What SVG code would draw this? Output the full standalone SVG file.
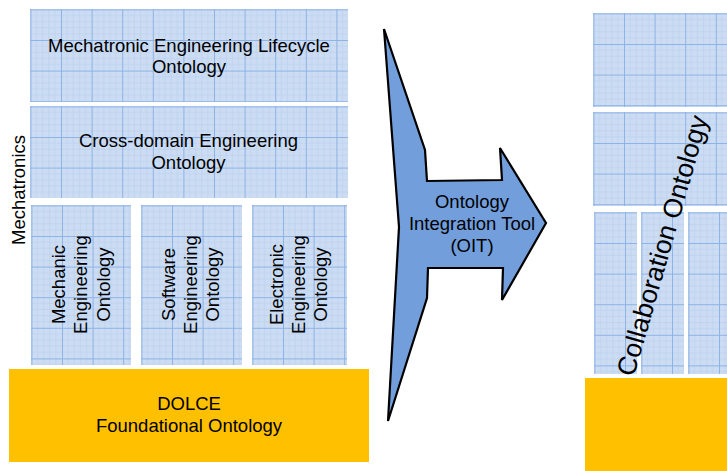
<svg xmlns="http://www.w3.org/2000/svg" width="727" height="471" viewBox="0 0 727 471">
  <defs>
    <pattern id="grid" patternUnits="userSpaceOnUse" x="0.4" y="0.4" width="30.6" height="30.6">
      <rect x="0" y="0" width="30.6" height="30.6" fill="#cbdcf3"/>
      <path d="M6.1 0V30.6M12.2 0V30.6M18.4 0V30.6M24.5 0V30.6M0 6.1H30.6M0 12.2H30.6M0 18.4H30.6M0 24.5H30.6" stroke="#b9cfee" stroke-width="0.6" fill="none"/>
      <path d="M0.5 0V30.6M0 0.5H30.6" stroke="#8eb3e6" stroke-width="1" fill="none"/>
    </pattern>
  </defs>
  <style>
    .box { fill: url(#grid); }
    .yellow { fill: #ffc000; }
    text { font-family: "Liberation Sans", Arial, sans-serif; font-size: 18.5px; fill: #000; text-anchor: middle; }
    .arrow { fill: #729fdc; stroke: #000; stroke-width: 2.2; stroke-linejoin: miter; }
  </style>
  <rect x="0" y="0" width="727" height="471" fill="#fff"/>

  <g id="mechatronics-label">
    <text transform="translate(25,190) rotate(-90)">Mechatronics</text>
  </g>

  <g id="lifecycle-ontology" transform="translate(30,9)">
    <rect class="box" x="0" y="0" width="318" height="93"/>
    <text x="159" y="42.5">Mechatronic Engineering Lifecycle</text>
    <text x="159" y="64">Ontology</text>
  </g>

  <g id="cross-domain-ontology" transform="translate(30,106)">
    <rect class="box" x="0" y="0" width="318" height="92"/>
    <text x="158.5" y="40.5">Cross-domain Engineering</text>
    <text x="158.5" y="63">Ontology</text>
  </g>

  <g id="mechanic-ontology" transform="translate(31,205)">
    <rect class="box" x="0" y="0" width="100" height="160"/>
    <g transform="translate(0,79.5) rotate(-90)">
      <text x="0" y="34">Mechanic</text>
      <text x="0" y="56">Engineering</text>
      <text x="0" y="78.5">Ontology</text>
    </g>
  </g>

  <g id="software-ontology" transform="translate(141,205)">
    <rect class="box" x="0" y="0" width="101" height="160"/>
    <g transform="translate(0,79.5) rotate(-90)">
      <text x="0" y="34">Software</text>
      <text x="0" y="56">Engineering</text>
      <text x="0" y="78">Ontology</text>
    </g>
  </g>

  <g id="electronic-ontology" transform="translate(252,205)">
    <rect class="box" x="0" y="0" width="95" height="160"/>
    <g transform="translate(0,79.5) rotate(-90)">
      <text x="0" y="31">Electronic</text>
      <text x="0" y="53">Engineering</text>
      <text x="0" y="75">Ontology</text>
    </g>
  </g>

  <g id="dolce">
    <rect class="yellow" x="9" y="369" width="360" height="93"/>
    <text x="189" y="410">DOLCE</text>
    <text x="189" y="431.5">Foundational Ontology</text>
  </g>

  <g id="connectors">
    <g id="oit-arrow">
      <polygon class="arrow" points="384,29 425,150 427,181 502,180 500,148 546,223 502,300 503,268 428,268 427,298 388,421 399,227"/>
      <text x="472" y="208">Ontology</text>
      <text x="472" y="230">Integration Tool</text>
      <text x="472" y="252">(OIT)</text>
    </g>
  </g>

  <g id="right-top" transform="translate(593,13)">
    <rect class="box" x="0" y="0" width="134" height="94"/>
  </g>
  <g id="right-middle" transform="translate(593,112)">
    <rect class="box" x="0" y="0" width="134" height="94"/>
  </g>
  <g id="right-col1" transform="translate(594,212)">
    <rect class="box" x="0" y="0" width="43" height="162"/>
  </g>
  <g id="right-col2" transform="translate(641,212)">
    <rect class="box" x="0" y="0" width="43" height="162"/>
  </g>
  <g id="right-col3" transform="translate(688,212)">
    <rect class="box" x="0" y="0" width="39" height="162"/>
  </g>
  <g id="right-foundation">
    <rect class="yellow" x="585" y="378" width="142" height="93"/>
  </g>
  <g id="collaboration-ontology">
    <text transform="translate(671,248) rotate(-74)" style="font-size:26.5px">Collaboration Ontology</text>
  </g>
</svg>
